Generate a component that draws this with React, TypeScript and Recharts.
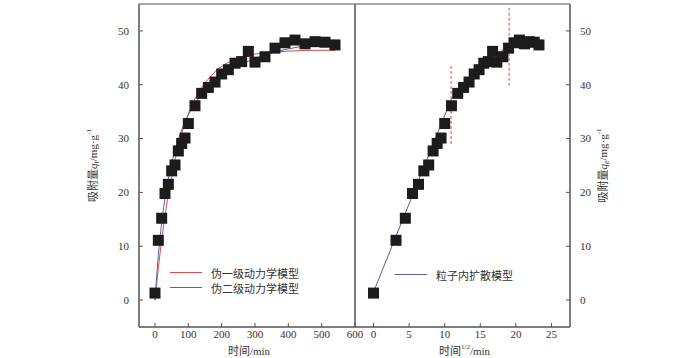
import {
  ComposedChart,
  XAxis,
  YAxis,
  Scatter,
  Line,
  Legend,
  ReferenceArea,
  ReferenceLine,
} from "recharts";

// measured points: time (min), sqrt(time) and uptake q (mg/g)
const TIME = [0, 10, 20, 30, 40, 50, 60, 70, 80, 90, 100, 120, 140, 160, 180, 200, 220, 240, 260, 280, 300, 330, 360, 390, 420, 450, 480, 510, 540];
const SQRT_TIME = [0, 3.16, 4.47, 5.48, 6.32, 7.07, 7.75, 8.37, 8.94, 9.49, 10, 10.95, 11.83, 12.65, 13.42, 14.14, 14.83, 15.49, 16.12, 16.73, 17.32, 18.17, 18.97, 19.75, 20.49, 21.21, 21.91, 22.58, 23.24];
const QT = [1.3, 11.1, 15.2, 19.8, 21.5, 24.0, 25.1, 27.7, 29.1, 30.1, 32.8, 36.1, 38.4, 39.5, 40.5, 42.0, 42.8, 44.0, 44.3, 46.2, 44.2, 45.2, 46.8, 47.8, 48.3, 47.6, 48.0, 47.9, 47.4];

// fitted curves
const FIT_T = [0, 10, 20, 30, 40, 50, 60, 80, 100, 120, 150, 180, 210, 240, 270, 300, 360, 420, 480, 540];
const PFO = [0, 5.9, 11.1, 15.6, 19.6, 23.0, 26.0, 30.9, 34.6, 37.4, 40.3, 42.4, 43.8, 44.7, 45.3, 45.7, 46.1, 46.3, 46.4, 46.4];
const PSO = [0, 8.3, 14.3, 18.9, 22.5, 25.4, 27.8, 31.6, 34.4, 36.5, 38.9, 40.7, 42.1, 43.2, 44.1, 44.9, 46.1, 46.9, 47.6, 48.3];

// intra-particle diffusion segments and break points
const IPD_X = [0, 10.95, 18.96, 23.24];
const IPD_Q = [1.5, 37.4, 47.5, 48.0];
const BREAK_X = [10.9, 19.05];
const BREAK_LOW = [29.0, 39.8];
const BREAK_HIGH = [43.7, 54.3];

const LEFT_TICKS = [0, 100, 200, 300, 400, 500, 600];
const RIGHT_TICKS = [0, 5, 10, 15, 20, 25];
const Y_TICKS = [0, 10, 20, 30, 40, 50];

const FONT = "'Liberation Serif', 'Noto Sans CJK SC', serif";
const AXIS = "#555";
const RED = "#e04a4f";
const BLUE = "#4f67a8";
const PURPLE = "#5c5c9e";

const tickStyle = { fill: "#333", fontSize: 11, fontFamily: FONT };

const leftPoints = TIME.map((t, i) => ({ t, q: QT[i] }));
const rightPoints = SQRT_TIME.map((s, i) => ({ t: s, q: QT[i] }));
const pfoLine = FIT_T.map((t, i) => ({ t, q: PFO[i] }));
const psoLine = FIT_T.map((t, i) => ({ t, q: PSO[i] }));
const ipdLine = IPD_X.map((x, i) => ({ t: x, q: IPD_Q[i] }));

const Square = (props: any) => (
  <rect x={props.cx - 5.5} y={props.cy - 5.5} width={11} height={11} fill="#1c1c1c" />
);

const YTitle = ({ viewBox, dx, sub }: any) => {
  const cx = viewBox.x + dx;
  const cy = viewBox.y + viewBox.height / 2;
  return (
    <text
      x={cx}
      y={cy}
      transform={`rotate(-90 ${cx} ${cy})`}
      textAnchor="middle"
      dominantBaseline="central"
      fontFamily={FONT}
      fontSize={11}
      fill="#333"
    >
      吸附量<tspan fontStyle="italic">q</tspan>
      <tspan fontStyle="italic" fontSize={8} dy={3}>{sub}</tspan>
      <tspan dy={-3}>/mg·g</tspan>
      <tspan fontSize={7} dy={-4}>-1</tspan>
    </text>
  );
};

const XTitle = ({ viewBox, sqrt }: any) => {
  const cx = viewBox.x + viewBox.width / 2 + 2;
  const cy = viewBox.y + 24;
  return (
    <text x={cx} y={cy} textAnchor="middle" dominantBaseline="central" fontFamily={FONT} fontSize={11} fill="#333">
      时间
      {sqrt ? <tspan fontSize={7} dy={-4}>1/2</tspan> : null}
      <tspan dy={sqrt ? 4 : 0}>/min</tspan>
    </text>
  );
};

const LegendRows = ({ payload }: any) => (
  <div style={{ fontFamily: FONT, fontSize: 11, color: "#333" }}>
    {(payload || [])
      .filter((p: any) => p.type !== "none")
      .map((p: any) => (
        <div key={p.value} style={{ display: "flex", alignItems: "center", height: 15 }}>
          <svg width={32} height={3}>
            <line x1={0} y1={1.5} x2={32} y2={1.5} stroke={p.color} strokeWidth={1} />
          </svg>
          <span style={{ marginLeft: 9, whiteSpace: "nowrap" }}>{p.value}</span>
        </div>
      ))}
  </div>
);

export default function App() {
  return (
    <div style={{ position: "absolute", left: 0, top: 0, width: 700, height: 358, background: "#fff" }}>
      <div style={{ position: "absolute", left: 0, top: 0 }}>
        <ComposedChart width={380} height={358} margin={{ top: 4, right: 25, bottom: 1, left: 99 }}>
          <XAxis
            dataKey="t"
            type="number"
            domain={[-48, 600]}
            ticks={LEFT_TICKS}
            stroke={AXIS}
            tick={tickStyle}
            tickSize={-4}
            tickMargin={7}
            height={30}
            label={<XTitle />}
          />
          <YAxis
            type="number"
            domain={[-5, 55]}
            ticks={Y_TICKS}
            stroke={AXIS}
            tick={tickStyle}
            tickSize={-4}
            tickMargin={14}
            width={40}
            label={<YTitle dx={-6} sub="t" />}
          />
          <ReferenceArea x1={-48} x2={600} y1={-5} y2={55} fill="none" stroke={AXIS} strokeWidth={1} />
          <Scatter data={leftPoints} dataKey="q" shape={Square} legendType="none" isAnimationActive={false} />
          <Line data={pfoLine} dataKey="q" name="伪一级动力学模型" type="monotone" stroke={RED} strokeWidth={1} dot={false} isAnimationActive={false} />
          <Line data={psoLine} dataKey="q" name="伪二级动力学模型" type="monotone" stroke={BLUE} strokeWidth={1} dot={false} isAnimationActive={false} />
          <Legend
            layout="vertical"
            align="center"
            verticalAlign="middle"
            content={<LegendRows />}
            wrapperStyle={{ left: 170, top: 265, width: "auto" }}
          />
        </ComposedChart>
      </div>
      <div style={{ position: "absolute", left: 340, top: 0 }}>
        <ComposedChart width={300} height={358} margin={{ top: 4, right: 30, bottom: 1, left: 15 }}>
          <XAxis
            dataKey="t"
            type="number"
            domain={[-2.6, 27.6]}
            ticks={RIGHT_TICKS}
            stroke={AXIS}
            tick={tickStyle}
            tickSize={-4}
            tickMargin={7}
            height={30}
            label={<XTitle sqrt />}
          />
          <YAxis
            orientation="right"
            type="number"
            domain={[-5, 55]}
            ticks={Y_TICKS}
            stroke={AXIS}
            tick={tickStyle}
            tickSize={-4}
            tickMargin={14}
            width={40}
            label={<YTitle dx={33} sub="e" />}
          />
          <ReferenceArea x1={-2.6} x2={27.6} y1={-5} y2={55} fill="none" stroke={AXIS} strokeWidth={1} />
          {BREAK_X.map((x, i) => (
            <ReferenceLine
              key={x}
              segment={[{ x, y: BREAK_LOW[i] }, { x, y: BREAK_HIGH[i] }]}
              stroke={RED}
              strokeDasharray="3 2"
              strokeWidth={1}
            />
          ))}
          <Scatter data={rightPoints} dataKey="q" shape={Square} legendType="none" isAnimationActive={false} />
          <Line data={ipdLine} dataKey="q" name="粒子内扩散模型" type="linear" stroke={PURPLE} strokeWidth={1} dot={false} isAnimationActive={false} />
          <Legend
            layout="vertical"
            align="center"
            verticalAlign="middle"
            content={<LegendRows />}
            wrapperStyle={{ left: 55, top: 267, width: "auto" }}
          />
        </ComposedChart>
      </div>
    </div>
  );
}
